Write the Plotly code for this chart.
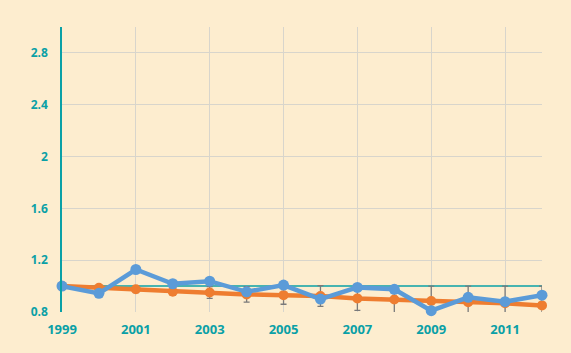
import plotly.graph_objects as go

years = list(range(1999, 2013))
orange_vals = [1.0, 0.987, 0.975, 0.956, 0.951, 0.936, 0.93, 0.923, 0.905, 0.897, 0.885, 0.875, 0.867, 0.851]
blue_vals = [1.0, 0.944, 1.128, 1.018, 1.038, 0.956, 1.008, 0.9, 0.99, 0.975, 0.81, 0.913, 0.88, 0.93]
orange_err = [0, 0.013, 0.025, 0.026, 0.046, 0.06, 0.07, 0.08, 0.093, 0.103, 0.115, 0.125, 0.133, 0.149]
ref_vals = [1.0] * len(years)
x_ticks = [1999, 2001, 2003, 2005, 2007, 2009, 2011]
y_ticks = [0.8, 1.2, 1.6, 2.0, 2.4, 2.8]
y_tick_labels = ["0.8", "1.2", "1.6", "2", "2.4", "2.8"]

teal = "#0AA0A6"
bg = "#FDEDCF"
orange = "#EE7D30"
blue = "#5B9BD8"

fig = go.Figure()
fig.add_trace(go.Scatter(x=years, y=ref_vals, mode="lines",
                         line=dict(color=teal, width=1.5), hoverinfo="skip"))
# orange: line + error bars (clipped), then markers (unclipped)
fig.add_trace(go.Scatter(x=years, y=orange_vals, mode="lines",
                         line=dict(color=orange, width=4.5),
                         error_y=dict(type="data", array=orange_err, visible=True,
                                      color="#7A7A7A", thickness=1.3, width=3)))
fig.add_trace(go.Scatter(x=years, y=orange_vals, mode="markers", cliponaxis=False,
                         marker=dict(color=orange, size=10)))
fig.add_trace(go.Scatter(x=years, y=blue_vals, mode="lines+markers", cliponaxis=False,
                         line=dict(color=blue, width=4.5),
                         marker=dict(color=blue, size=11)))

font_family = "Open Sans"
fig.update_layout(
    width=571, height=353,
    margin=dict(l=62, r=29, t=27, b=41),
    paper_bgcolor=bg, plot_bgcolor=bg,
    showlegend=False,
    xaxis=dict(range=[1999, 2012], tickvals=x_ticks, ticktext=[str(t) for t in x_ticks],
               showgrid=True, gridcolor="#D8D5CC", gridwidth=1,
               showline=False, zeroline=False, ticks="",
               ticklabelstandoff=8,
               tickfont=dict(family=font_family, size=13, color=teal, weight="bold")),
    yaxis=dict(range=[0.8, 3.0], tickvals=y_ticks, ticktext=y_tick_labels,
               showgrid=True, gridcolor="#D8D5CC", gridwidth=1,
               showline=True, linecolor=teal, linewidth=1.5, zeroline=False, ticks="",
               ticklabelstandoff=10,
               tickfont=dict(family=font_family, size=12, color=teal, weight="bold")),
)
fig.write_html("out.html")
